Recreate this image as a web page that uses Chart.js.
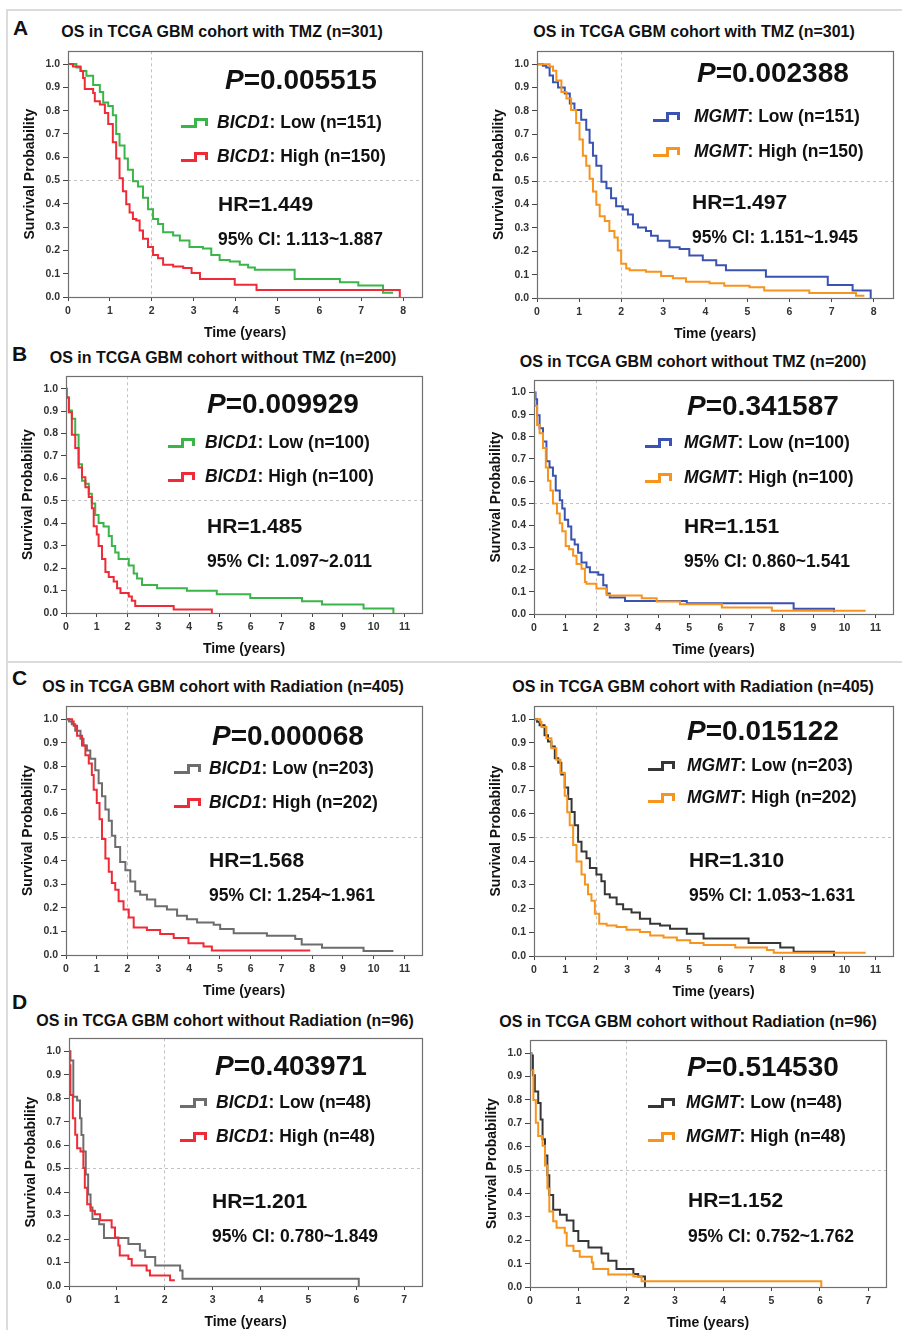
<!DOCTYPE html>
<html>
<head>
<meta charset="utf-8">
<title>BICD1 / MGMT survival in TCGA GBM</title>
<script src="https://cdn.jsdelivr.net/npm/chart.js@4.4.1/dist/chart.umd.min.js"></script>
<style>
  html, body { margin: 0; padding: 0; background: #fff; }
  body {
    position: relative; width: 902px; height: 1330px; overflow: hidden;
    font-family: "Liberation Sans", Arial, Helvetica, sans-serif; color: #111;
  }
  .rule { position: absolute; background: #dcdcdc; }
  .lbl { position: absolute; white-space: nowrap; font-weight: bold; line-height: 1; }
  canvas, svg { position: absolute; }
</style>
</head>
<body>
<div class="rule" style="left:6px;top:9px;width:896px;height:2px"></div>
<div class="rule" style="left:6px;top:661px;width:896px;height:2px"></div>
<div class="rule" style="left:6px;top:9px;width:2px;height:1321px"></div>
<script>
// ---- text ----
const panelTitles = [
  "OS in TCGA GBM cohort with TMZ (n=301)", "OS in TCGA GBM cohort with TMZ (n=301)",
  "OS in TCGA GBM cohort without TMZ (n=200)", "OS in TCGA GBM cohort without TMZ (n=200)",
  "OS in TCGA GBM cohort with Radiation (n=405)", "OS in TCGA GBM cohort with Radiation (n=405)",
  "OS in TCGA GBM cohort without Radiation (n=96)", "OS in TCGA GBM cohort without Radiation (n=96)",
];
const genes = ["BICD1", "MGMT", "BICD1", "MGMT", "BICD1", "MGMT", "BICD1", "MGMT"];
const groupLabels = ["Low", "High"];
const groupSizes = [[151, 150], [151, 150], [100, 100], [100, 100], [203, 202], [203, 202], [48, 48], [48, 48]];
const pValues = ["0.005515", "0.002388", "0.009929", "0.341587", "0.000068", "0.015122", "0.403971", "0.514530"];
const hrValues = ["1.449", "1.497", "1.485", "1.151", "1.568", "1.310", "1.201", "1.152"];
const ciValues = ["1.113~1.887", "1.151~1.945", "1.097~2.011", "0.860~1.541",
                  "1.254~1.961", "1.053~1.631", "0.780~1.849", "0.752~1.762"];

// ---- ticks ----
const yTicks = [0, 0.1, 0.2, 0.3, 0.4, 0.5, 0.6, 0.7, 0.8, 0.9, 1.0];
const xTicks8 = [0, 1, 2, 3, 4, 5, 6, 7, 8];
const xTicks11 = [0, 1, 2, 3, 4, 5, 6, 7, 8, 9, 10, 11];
const xTicks7 = [0, 1, 2, 3, 4, 5, 6, 7];

// ---- Kaplan-Meier steps: time (years) and survival right after each drop ----
// A: with TMZ
const bicdTmzLowT = [0, 0.2, 0.3, 0.44, 0.6, 0.76, 0.84, 0.96, 1.07, 1.15, 1.23, 1.35, 1.43, 1.55, 1.67, 1.79, 1.91, 2.03, 2.15, 2.27, 2.51, 2.67, 2.9, 3.22, 3.42, 3.62, 3.86, 4.1, 4.3, 4.46, 5.41, 6.49, 6.93, 7.52, 7.76];
const bicdTmzLowS = [1, 0.985, 0.97, 0.95, 0.91, 0.88, 0.835, 0.82, 0.78, 0.70, 0.65, 0.595, 0.546, 0.497, 0.475, 0.426, 0.377, 0.335, 0.313, 0.278, 0.264, 0.243, 0.215, 0.208, 0.18, 0.159, 0.152, 0.138, 0.127, 0.117, 0.077, 0.063, 0.049, 0.018, 0.018];
const bicdTmzHighT = [0, 0.12, 0.3, 0.36, 0.4, 0.6, 0.64, 0.76, 0.88, 0.96, 1.07, 1.15, 1.23, 1.31, 1.39, 1.47, 1.55, 1.63, 1.71, 1.79, 1.91, 2.03, 2.15, 2.27, 2.51, 2.75, 2.95, 3.15, 3.98, 4.5, 7.92, 7.92];
const bicdTmzHighS = [1, 0.99, 0.97, 0.94, 0.893, 0.876, 0.84, 0.827, 0.79, 0.743, 0.665, 0.595, 0.51, 0.454, 0.398, 0.363, 0.335, 0.328, 0.286, 0.25, 0.215, 0.18, 0.166, 0.138, 0.131, 0.124, 0.103, 0.077, 0.053, 0.03, 0.03, 0];
const mgmtTmzLowT = [0, 0.14, 0.22, 0.3, 0.38, 0.5, 0.66, 0.78, 0.89, 1.05, 1.17, 1.25, 1.33, 1.41, 1.53, 1.65, 1.76, 1.88, 2.04, 2.16, 2.28, 2.4, 2.59, 2.71, 2.87, 3.15, 3.39, 3.62, 3.94, 4.26, 4.49, 5.44, 6.91, 7.5, 7.93, 7.93];
const mgmtTmzLowS = [1, 0.993, 0.986, 0.951, 0.923, 0.9, 0.874, 0.832, 0.804, 0.762, 0.72, 0.664, 0.608, 0.566, 0.497, 0.469, 0.427, 0.392, 0.378, 0.357, 0.315, 0.301, 0.287, 0.266, 0.245, 0.217, 0.21, 0.182, 0.161, 0.14, 0.119, 0.091, 0.056, 0.032, 0.032, 0];
const mgmtTmzHighT = [0, 0.3, 0.38, 0.46, 0.58, 0.7, 0.81, 0.93, 1.01, 1.09, 1.17, 1.25, 1.33, 1.41, 1.49, 1.61, 1.72, 1.84, 1.92, 2.0, 2.12, 2.2, 2.59, 2.95, 3.23, 3.54, 4.1, 4.45, 5.05, 5.4, 6.47, 7.58, 7.78];
const mgmtTmzHighS = [1, 0.99, 0.972, 0.93, 0.881, 0.853, 0.804, 0.748, 0.678, 0.608, 0.566, 0.51, 0.455, 0.399, 0.35, 0.329, 0.287, 0.259, 0.203, 0.147, 0.126, 0.119, 0.112, 0.094, 0.084, 0.07, 0.063, 0.052, 0.046, 0.032, 0.021, 0.01, 0.01];

// B: without TMZ
const bicdNoTmzLowT = [0, 0.02, 0.1, 0.19, 0.3, 0.41, 0.52, 0.63, 0.74, 0.84, 0.95, 1.06, 1.22, 1.39, 1.49, 1.6, 1.71, 2.04, 2.2, 2.31, 2.47, 2.96, 3.93, 4.9, 5.99, 7.67, 8.32, 9.67, 10.64, 10.64];
const bicdNoTmzLowS = [1, 0.96, 0.903, 0.866, 0.794, 0.663, 0.59, 0.576, 0.532, 0.488, 0.437, 0.401, 0.386, 0.343, 0.299, 0.27, 0.241, 0.212, 0.176, 0.154, 0.125, 0.11, 0.099, 0.084, 0.067, 0.052, 0.038, 0.02, 0.02, 0];
const bicdNoTmzHighT = [0, 0.02, 0.09, 0.19, 0.3, 0.41, 0.52, 0.63, 0.74, 0.84, 0.9, 1.0, 1.06, 1.17, 1.28, 1.39, 1.55, 1.66, 1.77, 2.04, 2.14, 2.25, 3.5, 4.74, 4.74];
const bicdNoTmzHighS = [1, 0.96, 0.895, 0.794, 0.735, 0.648, 0.605, 0.561, 0.517, 0.467, 0.387, 0.35, 0.299, 0.241, 0.183, 0.161, 0.14, 0.11, 0.089, 0.074, 0.055, 0.031, 0.016, 0.016, 0];
const mgmtNoTmzLowT = [0, 0.05, 0.1, 0.18, 0.29, 0.4, 0.5, 0.61, 0.7, 0.83, 0.91, 0.99, 1.1, 1.2, 1.31, 1.42, 1.53, 1.69, 1.8, 2.07, 2.23, 2.34, 2.44, 2.93, 4.92, 8.36, 9.66, 9.66];
const mgmtNoTmzLowS = [1, 0.97, 0.897, 0.838, 0.779, 0.69, 0.661, 0.624, 0.558, 0.513, 0.476, 0.425, 0.395, 0.336, 0.314, 0.277, 0.233, 0.211, 0.189, 0.177, 0.13, 0.093, 0.074, 0.059, 0.049, 0.024, 0.024, 0.008];
const mgmtNoTmzHighT = [0, 0.02, 0.1, 0.18, 0.29, 0.38, 0.45, 0.53, 0.61, 0.74, 0.83, 0.91, 1.02, 1.13, 1.26, 1.37, 1.53, 1.64, 1.69, 2.01, 2.34, 2.44, 3.47, 3.95, 4.7, 6.05, 7.66, 10.68];
const mgmtNoTmzHighS = [1, 0.94, 0.853, 0.816, 0.749, 0.661, 0.602, 0.558, 0.499, 0.454, 0.41, 0.373, 0.307, 0.292, 0.263, 0.226, 0.204, 0.145, 0.137, 0.115, 0.086, 0.083, 0.071, 0.056, 0.044, 0.029, 0.015, 0.015];

// C: with radiation
const bicdRadLowT = [0, 0.1, 0.19, 0.3, 0.47, 0.57, 0.68, 0.79, 0.95, 1.06, 1.17, 1.28, 1.39, 1.49, 1.6, 1.76, 1.93, 2.09, 2.25, 2.41, 2.63, 2.9, 3.28, 3.61, 3.93, 4.26, 4.8, 5.01, 5.45, 6.53, 7.45, 7.66, 8.32, 9.67, 10.64];
const bicdRadLowS = [1, 0.99, 0.979, 0.951, 0.917, 0.889, 0.868, 0.833, 0.784, 0.729, 0.673, 0.617, 0.569, 0.506, 0.458, 0.395, 0.36, 0.312, 0.27, 0.256, 0.235, 0.207, 0.193, 0.166, 0.152, 0.138, 0.128, 0.11, 0.092, 0.082, 0.068, 0.045, 0.031, 0.017, 0.017];
const bicdRadHighT = [0, 0.2, 0.25, 0.36, 0.52, 0.63, 0.74, 0.84, 0.9, 1.0, 1.09, 1.17, 1.28, 1.39, 1.49, 1.6, 1.71, 1.87, 2.04, 2.2, 2.63, 3.06, 3.5, 3.98, 4.47, 4.74, 7.94];
const bicdRadHighS = [1, 0.99, 0.972, 0.93, 0.889, 0.847, 0.812, 0.764, 0.701, 0.645, 0.576, 0.492, 0.409, 0.353, 0.305, 0.277, 0.228, 0.193, 0.159, 0.117, 0.106, 0.089, 0.072, 0.05, 0.036, 0.019, 0.019];
const mgmtRadLowT = [0, 0.1, 0.18, 0.34, 0.45, 0.56, 0.67, 0.78, 0.88, 0.99, 1.1, 1.21, 1.31, 1.42, 1.53, 1.69, 1.8, 2.01, 2.17, 2.28, 2.44, 2.66, 2.87, 3.14, 3.41, 3.74, 4.06, 4.38, 4.92, 5.46, 6.91, 7.93, 8.36, 9.66, 9.66];
const mgmtRadLowS = [1, 0.99, 0.975, 0.933, 0.906, 0.885, 0.836, 0.816, 0.767, 0.712, 0.663, 0.608, 0.552, 0.483, 0.441, 0.413, 0.372, 0.344, 0.316, 0.261, 0.247, 0.219, 0.198, 0.184, 0.157, 0.136, 0.129, 0.115, 0.094, 0.074, 0.055, 0.036, 0.018, 0.018, 0];
const mgmtRadHighT = [0, 0.2, 0.24, 0.4, 0.56, 0.72, 0.85, 0.99, 1.07, 1.15, 1.26, 1.37, 1.53, 1.64, 1.74, 1.85, 1.96, 2.1, 2.34, 2.66, 2.98, 3.41, 3.74, 4.17, 4.6, 5.03, 5.46, 6.48, 7.5, 7.72, 10.68];
const mgmtRadHighS = [1, 0.99, 0.968, 0.92, 0.878, 0.829, 0.774, 0.677, 0.607, 0.552, 0.469, 0.399, 0.344, 0.302, 0.261, 0.233, 0.178, 0.136, 0.129, 0.122, 0.111, 0.101, 0.087, 0.078, 0.067, 0.055, 0.046, 0.036, 0.025, 0.014, 0.014];

// D: without radiation
const bicdNoRadLowT = [0, 0.03, 0.09, 0.17, 0.23, 0.26, 0.3, 0.35, 0.4, 0.45, 0.49, 0.63, 0.73, 1.24, 1.48, 1.59, 1.8, 2.32, 2.37, 6.05, 6.05];
const bicdNoRadLowS = [1, 0.96, 0.806, 0.79, 0.714, 0.643, 0.573, 0.475, 0.39, 0.334, 0.285, 0.263, 0.204, 0.179, 0.151, 0.123, 0.087, 0.066, 0.031, 0.031, 0];
const bicdNoRadHighT = [0, 0.01, 0.03, 0.08, 0.13, 0.17, 0.24, 0.3, 0.33, 0.38, 0.45, 0.54, 0.65, 0.89, 0.96, 1.03, 1.06, 1.24, 1.31, 1.62, 1.69, 2.11, 2.21];
const bicdNoRadHighS = [1, 0.94, 0.813, 0.714, 0.644, 0.587, 0.573, 0.503, 0.418, 0.348, 0.32, 0.306, 0.28, 0.249, 0.207, 0.172, 0.13, 0.115, 0.087, 0.066, 0.045, 0.024, 0.024];
const mgmtNoRadLowT = [0, 0.03, 0.06, 0.1, 0.17, 0.22, 0.26, 0.31, 0.36, 0.4, 0.48, 0.62, 0.76, 0.9, 1.0, 1.21, 1.48, 1.62, 1.79, 2.14, 2.24, 2.38, 2.38];
const mgmtNoRadLowS = [1, 0.99, 0.906, 0.836, 0.787, 0.716, 0.632, 0.562, 0.478, 0.393, 0.33, 0.309, 0.284, 0.239, 0.197, 0.169, 0.143, 0.112, 0.077, 0.056, 0.045, 0.045, 0];
const mgmtNoRadHighT = [0, 0.02, 0.07, 0.12, 0.17, 0.26, 0.31, 0.36, 0.4, 0.48, 0.55, 0.72, 0.76, 0.9, 1.03, 1.28, 1.31, 1.62, 2.14, 2.31, 6.03, 6.03];
const mgmtNoRadHighS = [1, 0.927, 0.8, 0.702, 0.646, 0.604, 0.52, 0.421, 0.323, 0.281, 0.253, 0.232, 0.176, 0.154, 0.129, 0.105, 0.077, 0.053, 0.045, 0.025, 0.025, 0];

const curves = [
  [[bicdTmzLowT, bicdTmzLowS], [bicdTmzHighT, bicdTmzHighS]],
  [[mgmtTmzLowT, mgmtTmzLowS], [mgmtTmzHighT, mgmtTmzHighS]],
  [[bicdNoTmzLowT, bicdNoTmzLowS], [bicdNoTmzHighT, bicdNoTmzHighS]],
  [[mgmtNoTmzLowT, mgmtNoTmzLowS], [mgmtNoTmzHighT, mgmtNoTmzHighS]],
  [[bicdRadLowT, bicdRadLowS], [bicdRadHighT, bicdRadHighS]],
  [[mgmtRadLowT, mgmtRadLowS], [mgmtRadHighT, mgmtRadHighS]],
  [[bicdNoRadLowT, bicdNoRadLowS], [bicdNoRadHighT, bicdNoRadHighS]],
  [[mgmtNoRadLowT, mgmtNoRadLowS], [mgmtNoRadHighT, mgmtNoRadHighS]],
];
const panelTicks = [xTicks8, xTicks8, xTicks11, xTicks11, xTicks11, xTicks11, xTicks7, xTicks7];

// ---- styles and placement ----
const FONT = '"Liberation Sans", Arial, Helvetica, sans-serif';
const GREEN = "#3ab54a", RED = "#ee2b36", BLUE = "#3a52b1", ORANGE = "#f7941d";
const GRAY = "#6d6d6d", DARK = "#363636", REF = "#c2c2c2";
const panelColors = [
  [GREEN, RED], [BLUE, ORANGE], [GREEN, RED], [BLUE, ORANGE],
  [GRAY, RED], [DARK, ORANGE], [GRAY, RED], [DARK, ORANGE],
];
const AXIS_W = 55, AXIS_H = 50, PAD = 5, Y_MAX = 1.055;

// box = plot frame [left, top, width, height]; other entries are page coordinates
const panelLayout = [
  { box: [68, 47, 354, 250], xMax: 8.45, title: [222, 32], p: [225, 80], icon: 180, text: 217, rows: [123, 157], hr: [218, 203], ci: 240 },
  { box: [537, 47, 356, 251], xMax: 8.46, title: [694, 32], p: [697, 73], icon: 652, text: 694, rows: [117, 152], hr: [692, 201], ci: 238 },
  { box: [66, 372, 356, 241], xMax: 11.57, title: [223, 358], p: [207, 404], icon: 167, text: 205, rows: [443, 477], hr: [207, 525], ci: 562 },
  { box: [534, 376, 359, 238], xMax: 11.56, title: [693, 362], p: [687, 406], icon: 644, text: 684, rows: [443, 478], hr: [684, 525], ci: 562 },
  { box: [66, 702, 356, 253], xMax: 11.57, title: [223, 687], p: [212, 736], icon: 173, text: 209, rows: [769, 803], hr: [209, 859], ci: 896 },
  { box: [534, 702, 359, 254], xMax: 11.56, title: [693, 687], p: [687, 731], icon: 647, text: 687, rows: [766, 798], hr: [689, 859], ci: 896 },
  { box: [69, 1034, 353, 252], xMax: 7.37, title: [225, 1021], p: [215, 1066], icon: 179, text: 216, rows: [1103, 1137], hr: [212, 1200], ci: 1237 },
  { box: [530, 1036, 356, 251], xMax: 7.37, title: [688, 1022], p: [687, 1067], icon: 647, text: 686, rows: [1103, 1137], hr: [688, 1199], ci: 1237 },
];
const letters = [["A", 13, 27], ["B", 12, 353], ["C", 12, 677], ["D", 12, 1001]];

// frame around the plotting area
const plotFrame = {
  id: "plotFrame",
  afterDraw(chart) {
    const { ctx, chartArea: a } = chart;
    ctx.save();
    ctx.strokeStyle = "#707070";
    ctx.lineWidth = 1.2;
    ctx.strokeRect(Math.round(a.left) + 0.5, Math.round(a.top) + 0.5,
                   Math.round(a.right - a.left), Math.round(a.bottom - a.top));
    ctx.restore();
  },
};

function addLabel(html, x, y, size, centered) {
  const el = document.createElement("div");
  el.className = "lbl";
  el.innerHTML = html;
  el.style.fontSize = size + "px";
  el.style.left = x + "px";
  el.style.top = y + "px";
  el.style.transform = centered ? "translate(-50%, -50%)" : "translateY(-50%)";
  document.body.appendChild(el);
}

function addIcon(x, y, color) {
  const ns = "http://www.w3.org/2000/svg";
  const svg = document.createElementNS(ns, "svg");
  svg.setAttribute("width", 28);
  svg.setAttribute("height", 10);
  svg.style.left = x + "px";
  svg.style.top = (y - 5) + "px";
  const line = document.createElementNS(ns, "polyline");
  line.setAttribute("points", "1,8.5 15.5,8.5 15.5,1.5 26.5,1.5 26.5,8");
  line.setAttribute("fill", "none");
  line.setAttribute("stroke", color);
  line.setAttribute("stroke-width", 3);
  svg.appendChild(line);
  document.body.appendChild(svg);
}

function drawPanel(i) {
  const L = panelLayout[i];
  const [bx, by, bw, bh] = L.box;
  const canvas = document.createElement("canvas");
  canvas.width = AXIS_W + bw + PAD;
  canvas.height = PAD + bh + AXIS_H;
  canvas.style.left = (bx - AXIS_W) + "px";
  canvas.style.top = (by - PAD) + "px";
  document.body.appendChild(canvas);

  const datasets = curves[i].map(([t, s], g) => ({
    label: `${genes[i]}: ${groupLabels[g]}`,
    data: t.map((x, k) => ({ x, y: s[k] })),
    borderColor: panelColors[i][g],
    borderWidth: 2,
    stepped: true,
    pointRadius: 0,
    fill: false,
  })).reverse();

  const tickFont = { family: FONT, size: 10.5, weight: "bold" };
  const titleFont = { family: FONT, size: 14, weight: "bold", lineHeight: 1.2 };

  new Chart(canvas, {
    type: "line",
    data: { datasets },
    options: {
      responsive: false,
      animation: false,
      events: [],
      layout: { padding: { top: PAD, right: PAD, bottom: 0, left: 0 } },
      plugins: { legend: { display: false }, tooltip: { enabled: false } },
      scales: {
        x: {
          type: "linear",
          min: 0,
          max: L.xMax,
          afterBuildTicks: (s) => { s.ticks = panelTicks[i].map((v) => ({ value: v })); },
          afterFit: (s) => { s.height = AXIS_H; },
          ticks: { font: tickFont, color: "#333", padding: 4, autoSkip: false, maxRotation: 0, callback: (v) => String(v) },
          grid: {
            color: (c) => (c.tick && c.tick.value === 2 ? REF : "rgba(0,0,0,0)"),
            tickColor: "#444", tickLength: 4, lineWidth: 1,
          },
          border: { display: false, dash: [3, 3] },
          title: { display: true, text: "Time (years)", font: titleFont, color: "#111", padding: { top: 0, bottom: 5 } },
        },
        y: {
          type: "linear",
          min: 0,
          max: Y_MAX,
          afterBuildTicks: (s) => { s.ticks = yTicks.map((v) => ({ value: v })); },
          afterFit: (s) => { s.width = AXIS_W; },
          ticks: { font: tickFont, color: "#333", padding: 3, autoSkip: false, callback: (v) => v.toFixed(1) },
          grid: {
            color: (c) => (c.tick && Math.abs(c.tick.value - 0.5) < 1e-9 ? REF : "rgba(0,0,0,0)"),
            tickColor: "#444", tickLength: 5, lineWidth: 1,
          },
          border: { display: false, dash: [3, 3] },
          title: { display: true, text: "Survival Probability", font: titleFont, color: "#111", padding: { top: 9, bottom: 0 } },
        },
      },
    },
    plugins: [plotFrame],
  });

  addLabel(panelTitles[i], L.title[0], L.title[1], 16, true);
  addLabel(`<i>P</i>=${pValues[i]}`, L.p[0], L.p[1], 28);
  groupLabels.forEach((g, k) => {
    addIcon(L.icon, L.rows[k], panelColors[i][k]);
    addLabel(`<i>${genes[i]}</i>: ${g} (n=${groupSizes[i][k]})`, L.text, L.rows[k], 17.5);
  });
  addLabel(`HR=${hrValues[i]}`, L.hr[0], L.hr[1], 21);
  addLabel(`95% CI: ${ciValues[i]}`, L.hr[0], L.ci, 17.5);
}

letters.forEach(([ch, x, y]) => addLabel(ch, x, y, 21));
panelLayout.forEach((_, i) => drawPanel(i));
</script>
</body>
</html>
